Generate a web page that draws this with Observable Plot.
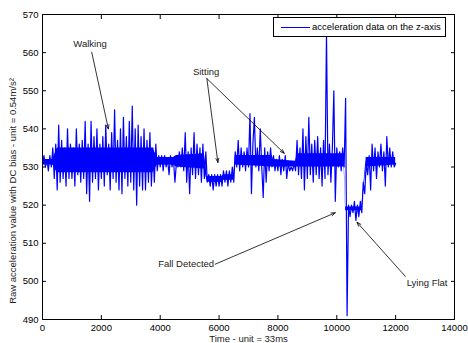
<!DOCTYPE html>
<html><head><meta charset="utf-8">
<script src="https://cdn.jsdelivr.net/npm/d3@7"></script>
<script src="https://cdn.jsdelivr.net/npm/@observablehq/plot@0.6"></script>
<style>
body{margin:0;background:#fff;font-family:"Liberation Sans",Arial,sans-serif;}
#wrap{position:relative;width:468px;height:343px;}
#legend{position:absolute;left:273px;top:17px;width:171px;height:18px;border:1px solid #000;background:#fff;font-size:9.5px;color:#000;}
#legend .sw{position:absolute;left:7px;top:9px;width:29px;height:1px;background:#0000ff;}
#legend .tx{position:absolute;left:38px;top:3px;line-height:12px;white-space:nowrap;}
</style></head><body><div id="wrap"><div id="legend"><div class="sw"></div><div class="tx">acceleration data on the z-axis</div></div></div>
<script>
// sample spacing (time units) of the values
const sampleStep = 50;
// z-axis raw acceleration, every 50 time units (0 … 12000)
const zValues = [
  531,533,530,532,529,533,530,535,527,536,524,541,526,537,527,535,525,540,527,536,
  527,535,525,540,528,536,526,537,527,542,523,536,521,542,526,538,527,540,524,536,
  527,538,525,541,528,536,524,539,527,545,526,537,524,540,523,543,527,538,525,542,
  526,546,524,540,520,541,525,538,524,540,524,537,526,539,525,535,526,536,529,533,
  530,533,529,533,530,532,528,533,530,532,526,531,530,534,530,535,529,539,526,534,
  523,535,528,539,527,536,528,535,526,536,527,534,526,528,525,528,524,528,525,528,
  525,528,525,529,526,529,525,529,526,530,526,534,530,537,529,535,530,534,529,535,
  530,544,523,536,543,530,535,529,540,530,522,535,526,534,529,535,530,533,529,532,
  529,533,528,532,529,533,527,531,529,530,529,531,529,537,528,535,527,540,524,538,
  527,543,528,536,526,537,528,538,527,535,525,537,527,565,528,536,526,535,550,521,
  535,530,534,529,535,530,548,491,520,517,520,518,521,516,520,517,521,518,526,523,
  531,528,533,524,536,529,535,527,534,530,536,529,534,525,538,530,535,530,534,530,
  531
];
// dense core band of the trace (where the samples overlap into solid blue)
const coreTime = [0,350,500,3750,3900,4450,4550,5500,5600,6100,6150,6500,6550,7800,7850,8600,8650,10250,10300,10850,11000,12000];
const coreLow  = [530.5,530.5,528.5,528.5,530.5,530.5,530,529.5,526,526,526.5,526.5,530.5,530,530,530,530,530,518.5,518.5,530,530.5];
const coreHigh = [532,532,535,535,532.5,532.5,533,533.5,527.5,527.5,528,528,533,533,532,531.5,533.5,533.5,519.5,519.5,532.5,532.5];
// tick labels
const timeTicks = [0,2000,4000,6000,8000,10000,12000,14000];
const valueTicks = [490,500,510,520,530,540,550,560,570];
// annotations
const noteLabels = ["Walking","Sitting","Fall Detected","Lying Flat"];
const noteTime = [1615,5560,4881,13068];
const noteValue = [562.2,555.0,504.6,499.7];
const arrowFromTime = [1673,5585,5585,5867,12330];
const arrowFromValue = [560.1,553.2,553.2,504.5,501.3];
const arrowToTime = [2238,5959,8214,9949,10687];
const arrowToValue = [540.0,531.2,533.6,518.0,515.5];

const samples = zValues.map((v, i) => ({t: i * sampleStep, v}));
const core = coreTime.map((t, i) => ({t, lo: coreLow[i], hi: coreHigh[i]}));
const notes = noteLabels.map((label, i) => ({label, t: noteTime[i], v: noteValue[i]}));
const arrows = arrowFromTime.map((t1, i) => ({t1, v1: arrowFromValue[i], t2: arrowToTime[i], v2: arrowToValue[i]}));

const blue = "#0000ff";
const plain = d => String(d);
const chart = Plot.plot({
  width: 468, height: 343,
  marginLeft: 42, marginRight: 14, marginTop: 14, marginBottom: 24,
  style: {fontFamily: '"Liberation Sans", Arial, sans-serif', fontSize: "9.5px", background: "#fff", color: "#000"},
  x: {domain: [0, 14000], axis: null},
  y: {domain: [490, 570], axis: null},
  marks: [
    Plot.areaY(core, {x: "t", y1: "lo", y2: "hi", fill: blue}),
    Plot.line(samples, {x: "t", y: "v", stroke: blue, strokeWidth: 1.2}),
    Plot.arrow(arrows, {x1: "t1", y1: "v1", x2: "t2", y2: "v2", stroke: "#000", strokeWidth: 0.8, headLength: 8, headAngle: 40}),
    Plot.text(notes, {x: "t", y: "v", text: "label", fill: "#222", fontSize: 9.5}),
    Plot.frame({stroke: "#000"}),
    Plot.axisX(timeTicks, {anchor: "bottom", tickSize: -4, tickPadding: 9, tickFormat: plain, label: null}),
    Plot.axisX(timeTicks, {anchor: "top", tickSize: -4, tickFormat: () => "", label: null}),
    Plot.axisY(valueTicks, {anchor: "left", tickSize: -4, tickPadding: 8, tickFormat: plain, label: null}),
    Plot.axisY(valueTicks, {anchor: "right", tickSize: -4, tickFormat: () => "", label: null}),
    Plot.text(["Time - unit = 33ms"], {frameAnchor: "bottom", dy: 19, textAnchor: "middle", lineAnchor: "middle", fill: "#222", fontSize: 9.5}),
    Plot.text(["Raw acceleration value with DC bias - unit = 0.54m/s²"], {frameAnchor: "left", rotate: -90, dx: -30, dy: 24, textAnchor: "middle", lineAnchor: "middle", fill: "#222", fontSize: 9.5})
  ]
});
document.getElementById("wrap").prepend(chart);
chart.style.position = "absolute";
chart.style.left = "0";
chart.style.top = "0";
</script>
</body></html>
